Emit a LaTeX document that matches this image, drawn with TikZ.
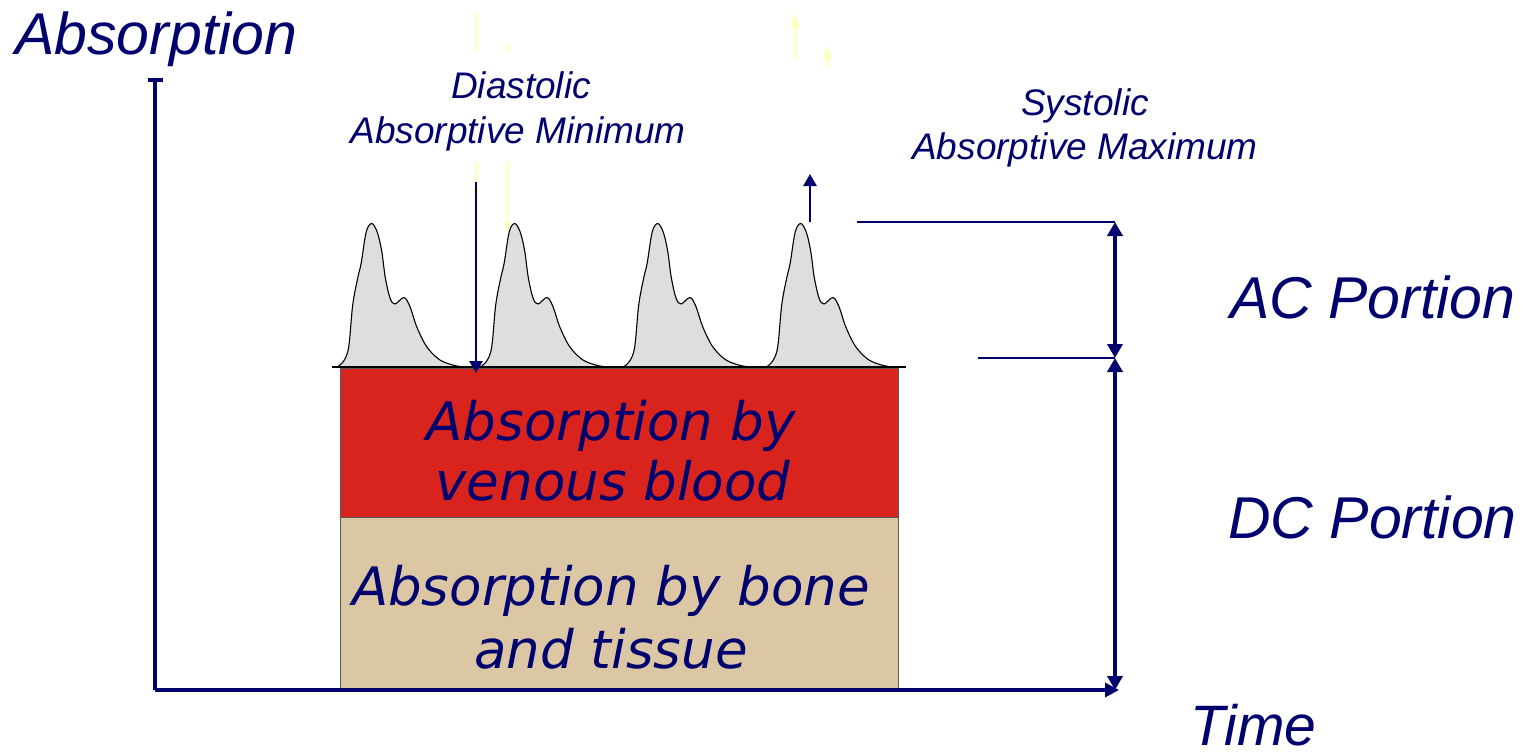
\documentclass[tikz,border=0pt]{standalone}
\usepackage{fontspec}
\usetikzlibrary{arrows.meta}
\newfontfamily\labfont{Liberation Sans}
\newfontfamily\boxfont{DejaVu Sans}
\definecolor{navy}{RGB}{0,0,110}
\definecolor{venous}{RGB}{216,36,28}
\definecolor{tissue}{RGB}{220,199,165}
\definecolor{peakgray}{RGB}{222,222,222}
\definecolor{ghost}{RGB}{255,255,200}
\begin{document}
\begin{tikzpicture}[x=1pt,y=-1pt,
  lab/.style={inner sep=0pt,text=navy,font=\labfont\itshape\fontsize{37}{44}\selectfont},
  biglab/.style={inner sep=0pt,text=navy,font=\labfont\itshape\fontsize{59}{66}\selectfont},
  boxtxt/.style={inner sep=0pt,text=navy,font=\boxfont\itshape\fontsize{53}{62}\selectfont},
  axis/.style={draw=navy,line width=4.5pt},
  dimline/.style={draw=navy,line width=4.5pt},
  thinline/.style={draw=navy,line width=2pt},
  tip/.style={-{Triangle[length=14pt,width=14pt]}},
  smalltip/.style={-{Triangle[length=12pt,width=13pt]}},
  dimtips/.style={{Triangle[length=14pt,width=15pt]}-{Triangle[length=14pt,width=15pt]}},
  peak/.style={fill=peakgray,draw=black,line width=1.1pt},
  ghostline/.style={draw=ghost,line width=3pt},
  layer/.style={draw=black!65,line width=1pt}]
\useasboundingbox (0,0) rectangle (1523,752);

% layers
\fill[tissue] (340,517) rectangle (898,690);
\fill[venous] (340,368) rectangle (898,517);
\draw[layer] (340,368) rectangle (898,517);
\draw[layer] (340,517) rectangle (898,690);

% pulses
\foreach \c in {371.7,514.7,657.7,800.7}{
  \filldraw[peak,shift={(\c,0)}] plot[smooth,tension=0.55] coordinates {
    (-34.4,367) (-28,361) (-23,347) (-19,305) (-14,278) (-10.5,263) (-5.5,232)
    (0,223.5) (5.5,232) (10,251) (13.5,277) (18.3,298) (23.3,304) (32.3,297.5)
    (38.3,306.7) (45,326.7) (55,346.7) (68.3,360) (85,366) (98.3,367)};
}
\draw[black,line width=2pt] (332,367) -- (906,367);

% faint ghost lines
\draw[ghostline] (476,12) -- (476,52);
\draw[ghostline] (507,43) -- (507,53);
\draw[ghostline,-{Triangle[length=8pt,width=9pt]}] (476,162) -- (476,196);
\draw[ghostline,-{Triangle[length=10pt,width=10pt]}] (507,162) -- (507,232);
\draw[ghostline,-{Triangle[length=16pt,width=10pt]}] (795,60) -- (795,12);
\draw[ghostline,-{Triangle[length=15pt,width=10pt]}] (827,68) -- (827,45);

% axes
\coordinate (origin) at (155,690);
\coordinate (ytop) at (155,78);
\coordinate (xend) at (1119,690);
\draw[axis] (origin) -- (ytop);
\draw[navy,line width=3.5pt] (148,80) -- (163,80);
\draw[axis,tip] (origin) -- (xend);

% diastolic / systolic arrows
\coordinate (dtop) at (476,182);
\coordinate (dbot) at (476,373);
\draw[navy,line width=2.7pt,smalltip] (dtop) -- (dbot);
\coordinate (sbot) at (810,222);
\coordinate (stop) at (810,174);
\draw[navy,line width=2.7pt,smalltip] (sbot) -- (stop);

% dimension lines
\coordinate (acL) at (857,222);
\coordinate (acT) at (1115,222);
\coordinate (dcL) at (978,358);
\coordinate (mid) at (1115,358);
\coordinate (bot) at (1115,690);
\draw[thinline] (acL) -- (acT);
\draw[thinline] (dcL) -- (mid);
\draw[dimline,dimtips] (acT) -- (mid);
\draw[navy,line width=4pt,dimtips] (mid) -- (bot);

% labels
\node[biglab,anchor=base west] (yl) at (15,55) {Absorption};
\node[biglab,font=\labfont\itshape\fontsize{57}{64}\selectfont,anchor=base west] (xl) at (1190,745) {Time};
\node[biglab,anchor=base west] (ac) at (1230,318) {AC Portion};
\node[biglab,anchor=base west] (dc) at (1228,538) {DC Portion};
\node[lab,anchor=base] (dia1) at (521,99) {Diastolic};
\node[lab,anchor=base] (dia2) at (518,143) {Absorptive Minimum};
\node[lab,anchor=base] (sys1) at (1085,115) {Systolic};
\node[lab,anchor=base] (sys2) at (1085,159) {Absorptive Maximum};

\node[boxtxt,anchor=base] (v1) at (611,440) {Absorption by};
\node[boxtxt,anchor=base] (v2) at (613,500) {venous blood};
\node[boxtxt,anchor=base] (t1) at (611,605) {Absorption by bone};
\node[boxtxt,anchor=base] (t2) at (611,668) {and tissue};
\end{tikzpicture}
\end{document}
